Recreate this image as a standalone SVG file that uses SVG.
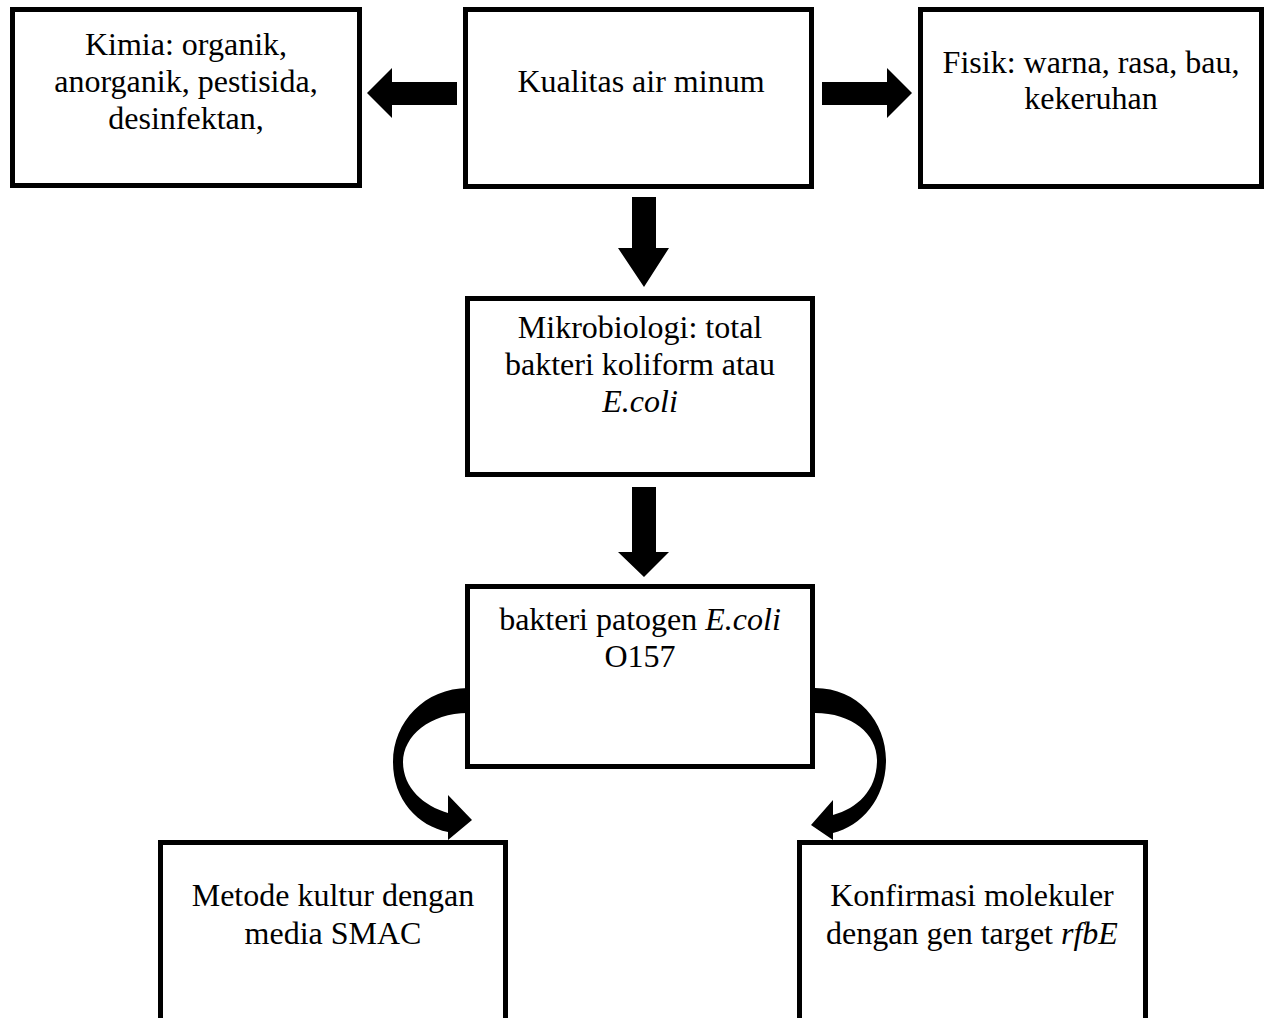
<svg xmlns="http://www.w3.org/2000/svg" width="1266" height="1018" viewBox="0 0 1266 1018">
<style>
.box{fill:#fff;stroke:#000;stroke-width:5}
.t{font-family:"Liberation Serif","Times New Roman",serif;font-size:32px;fill:#000;text-anchor:middle}
.i{font-style:italic}
.arr{fill:#000;stroke:none}
</style>
<rect width="1266" height="1018" fill="#fff"/>
<g id="connectors">
<polygon class="arr" points="457,82 392,82 392,68 367,93 392,118 392,105 457,105"/>
<polygon class="arr" points="822,82 887,82 887,68 912,93 887,118 887,105 822,105"/>
<polygon class="arr" points="632,197 656,197 656,248 669,248 644,287 618,248 632,248"/>
<polygon class="arr" points="632,487 656,487 656,552 669,552 644,577 618,552 632,552"/>
<path class="arr" d="M468,688 C425,688 393,722 393,762 C393,800 418,826 448,832 L448,840 L472,820 L448,795 L448,813 C424,806 403,788 403,762 C403,736 430,713 468,713 Z"/>
<path class="arr" d="M815,688 C858,688 886,722 886,760 C886,798 862,826 833,833 L833,840 L811,825 L833,800 L833,815 C858,808 877,790 877,760 C877,734 852,713 815,713 Z"/>
</g>
<g id="node-kimia">
<rect class="box" x="12.5" y="9.5" width="347" height="176"/>
<text class="t" x="186" y="55">Kimia: organik,</text>
<text class="t" x="186" y="92">anorganik, pestisida,</text>
<text class="t" x="186" y="129">desinfektan,</text>
</g>
<g id="node-kualitas">
<rect class="box" x="465.5" y="9.5" width="346" height="177"/>
<text class="t" x="641" y="92">Kualitas air minum</text>
</g>
<g id="node-fisik">
<rect class="box" x="920.5" y="9.5" width="341" height="177"/>
<text class="t" x="1091" y="73">Fisik: warna, rasa, bau,</text>
<text class="t" x="1091" y="109">kekeruhan</text>
</g>
<g id="node-mikrobiologi">
<rect class="box" x="467.5" y="298.5" width="345" height="176"/>
<text class="t" x="640" y="338">Mikrobiologi: total</text>
<text class="t" x="640" y="375">bakteri koliform atau</text>
<text class="t i" x="640" y="412">E.coli</text>
</g>
<g id="node-patogen">
<rect class="box" x="467.5" y="586.5" width="345" height="180"/>
<text class="t" x="640" y="630">bakteri patogen <tspan class="i">E.coli</tspan></text>
<text class="t" x="640" y="667">O157</text>
</g>
<g id="node-kultur">
<rect class="box" x="160.5" y="842.5" width="345" height="200"/>
<text class="t" x="333" y="906">Metode kultur dengan</text>
<text class="t" x="333" y="944">media SMAC</text>
</g>
<g id="node-molekuler">
<rect class="box" x="799.5" y="842.5" width="346" height="200"/>
<text class="t" x="972" y="906">Konfirmasi molekuler</text>
<text class="t" x="972" y="944">dengan gen target <tspan class="i">rfbE</tspan></text>
</g>
</svg>
